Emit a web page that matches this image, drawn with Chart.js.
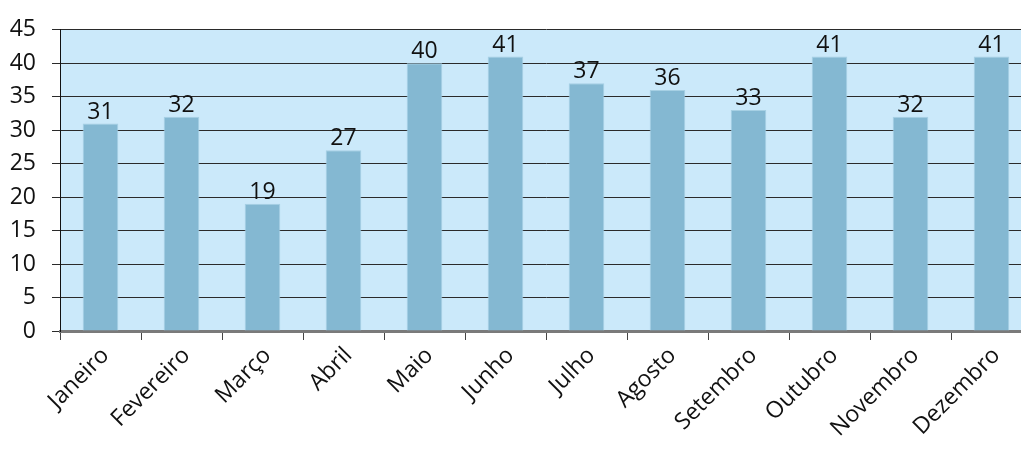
<!DOCTYPE html>
<html>
<head>
<meta charset="utf-8">
<script src="https://cdn.jsdelivr.net/npm/chart.js@4/dist/chart.umd.min.js"></script>
<style>
  html, body { margin: 0; padding: 0; background: #ffffff; overflow: hidden; }
  #wrap { width: 1032px; height: 450px; position: relative; }
</style>
</head>
<body>
<div id="wrap"><canvas id="c"></canvas></div>
<script>
const months = ['Janeiro', 'Fevereiro', 'Março', 'Abril', 'Maio', 'Junho',
                'Julho', 'Agosto', 'Setembro', 'Outubro', 'Novembro', 'Dezembro'];
const counts = [31, 32, 19, 27, 40, 41, 37, 36, 33, 41, 32, 41];
const yTicks = [0, 5, 10, 15, 20, 25, 30, 35, 40, 45];

const FONT = '"Open Sans", "Noto Sans", sans-serif';

// light blue fill behind the plotting area
const plotBackground = {
  id: 'plotBackground',
  beforeDraw(chart) {
    const { ctx, chartArea: a } = chart;
    ctx.save();
    ctx.fillStyle = '#cbe9fa';
    ctx.fillRect(a.left, a.top, a.right - a.left, a.bottom - a.top);
    ctx.restore();
  }
};

// value written above every bar
const valueLabels = {
  id: 'valueLabels',
  afterDatasetsDraw(chart) {
    const { ctx } = chart;
    const meta = chart.getDatasetMeta(0);
    ctx.save();
    ctx.font = '23px ' + FONT;
    ctx.fillStyle = '#111';
    ctx.textAlign = 'center';
    ctx.textBaseline = 'alphabetic';
    meta.data.forEach((bar, i) => {
      ctx.fillText(String(counts[i]), bar.x, bar.y - 5);
    });
    ctx.restore();
  }
};

new Chart(document.getElementById('c'), {
  type: 'bar',
  data: {
    labels: months,
    datasets: [{
      data: counts,
      backgroundColor: '#84b8d2',
      borderColor: '#a6d0e4',
      borderWidth: 1,
      borderSkipped: 'bottom',
      categoryPercentage: 1,
      barPercentage: 0.44
    }]
  },
  options: {
    responsive: true,
    maintainAspectRatio: false,
    animation: false,
    layout: { padding: { top: 28, right: 0, left: 0, bottom: 0 } },
    plugins: { legend: { display: false }, tooltip: { enabled: false } },
    scales: {
      x: {
        grid: {
          offset: true,
          drawOnChartArea: false,
          drawTicks: true,
          tickLength: 9,
          color: '#444',
          lineWidth: 1
        },
        border: { display: true, color: '#7a7a7a', width: 3 },
        ticks: {
          font: { family: FONT, size: 23 },
          color: '#111',
          minRotation: 45,
          maxRotation: 45,
          padding: 2,
          labelOffset: 5,
          autoSkip: false
        },
        afterFit(scale) { scale.height = 119; }
      },
      y: {
        min: 0,
        max: 45,
        afterBuildTicks(scale) { scale.ticks = yTicks.map(v => ({ value: v })); },
        grid: {
          color: '#2a2a2a',
          lineWidth: 1,
          tickLength: 8,
          drawTicks: true
        },
        border: { display: true, color: '#111', width: 1 },
        ticks: {
          font: { family: FONT, size: 23 },
          color: '#111',
          padding: 16
        },
        afterFit(scale) { scale.width = 60; }
      }
    }
  },
  plugins: [plotBackground, valueLabels]
});
</script>
</body>
</html>
